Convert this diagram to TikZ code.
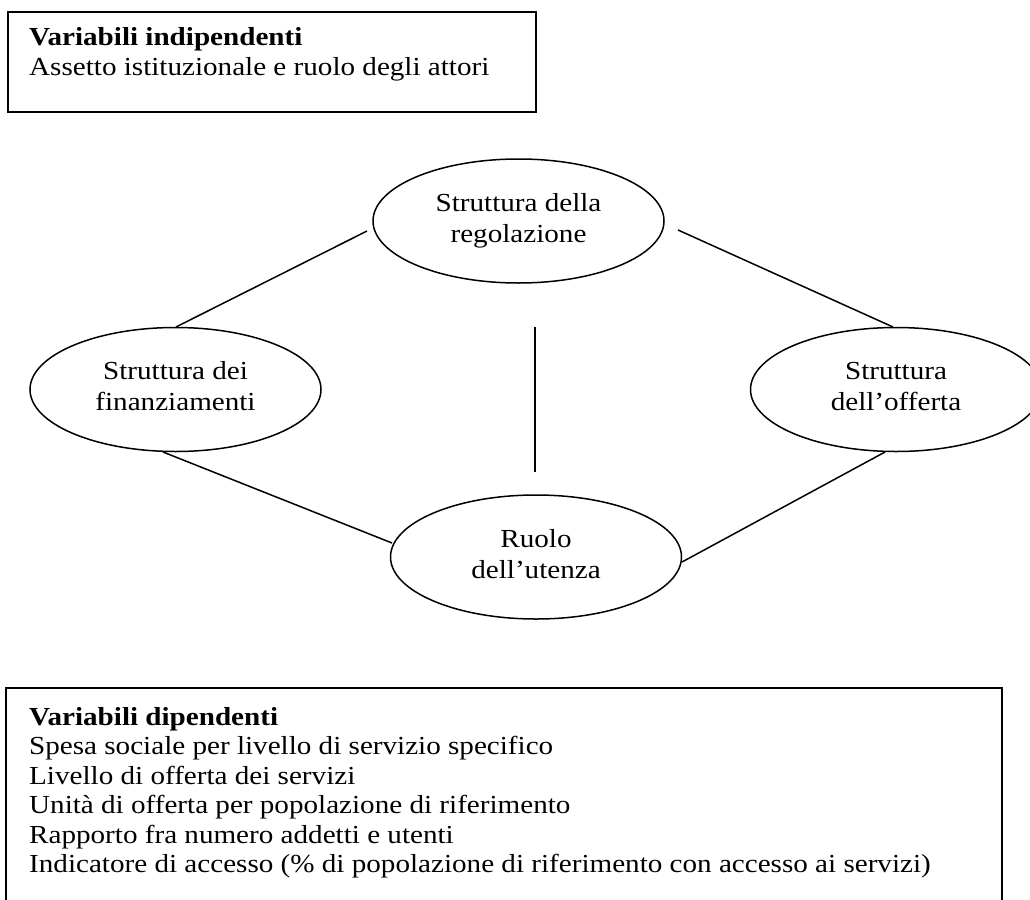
\documentclass[tikz,border=0pt]{standalone}
\usepackage{fontspec}
\setmainfont{Liberation Serif}
\usetikzlibrary{shapes.geometric}
\newcommand{\wx}[1]{\scalebox{1.12}[1]{#1}}
\tikzset{
  frame/.style={draw, line width=1.8pt, inner sep=0pt, rectangle},
  oval/.style={draw, ellipse, line width=1.5pt, inner sep=0pt,
    minimum width=291pt, minimum height=124pt, align=center,
    text depth=7pt, font=\fontsize{26}{31}\selectfont},
  link/.style={line width=1.5pt},
  txt/.style={inner sep=0pt, anchor=base west, font=\fontsize{26}{29}\selectfont}
}
\begin{document}
\begin{tikzpicture}[x=1pt, y=-1pt]
\useasboundingbox (0,0) rectangle (1030,899);
% top box
\node[frame, anchor=north west, minimum width=528pt, minimum height=100pt] (indbox) at (7,11) {};
\node[txt] (ind1) at (29,46) {\wx{\textbf{Variabili indipendenti}}};
\node[txt] (ind2) at (29,75) {\wx{Assetto istituzionale e ruolo degli attori}};
% ellipses
\node[oval] (reg) at (518.5,221) {\wx{Struttura della}\\ \wx{regolazione}};
\node[oval] (fin) at (175.5,389.5) {\wx{Struttura dei}\\ \wx{finanziamenti}};
\node[oval] (off) at (896,389.5) {\wx{Struttura}\\ \wx{dell’offerta}};
\node[oval] (ute) at (536,557) {\wx{Ruolo}\\ \wx{dell’utenza}};
% free connector ends
\coordinate (a1) at (176,327); \coordinate (a2) at (367,231);
\coordinate (b1) at (678,230); \coordinate (b2) at (893,327);
\coordinate (c1) at (535,327); \coordinate (c2) at (535,472);
\coordinate (d1) at (163,452); \coordinate (d2) at (392,543);
\coordinate (e1) at (682,562); \coordinate (e2) at (885,452);
\draw[link] (a1) -- (a2);
\draw[link] (b1) -- (b2);
\draw[link] (c1) -- (c2);
\draw[link] (d1) -- (d2);
\draw[link] (e1) -- (e2);
% bottom box
\node[frame, anchor=north west, minimum width=996pt, minimum height=300pt] (depbox) at (5,687) {};
\node[txt] (dep1) at (29,725) {\wx{\textbf{Variabili dipendenti}}};
\node[txt] (dep2) at (29,754.5) {\wx{Spesa sociale per livello di servizio specifico}};
\node[txt] (dep3) at (29,784) {\wx{Livello di offerta dei servizi}};
\node[txt] (dep4) at (29,813.5) {\wx{Unità di offerta per popolazione di riferimento}};
\node[txt] (dep5) at (29,843) {\wx{Rapporto fra numero addetti e utenti}};
\node[txt] (dep6) at (29,872.5) {\wx{Indicatore di accesso (\% di popolazione di riferimento con accesso ai servizi)}};
\end{tikzpicture}
\end{document}
